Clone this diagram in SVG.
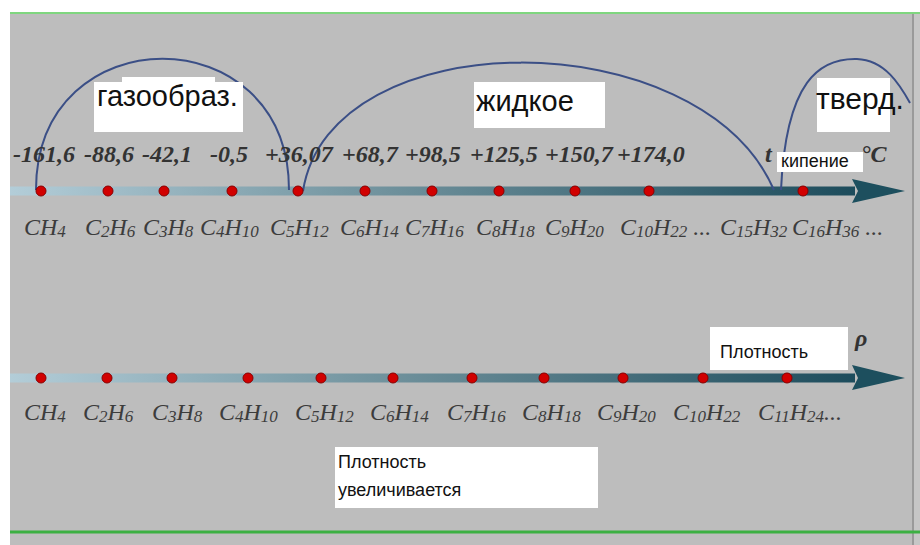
<svg xmlns="http://www.w3.org/2000/svg" width="920" height="545" viewBox="0 0 920 545">
<defs>
<linearGradient id="bar" x1="0" y1="0" x2="1" y2="0">
<stop offset="0" stop-color="#b3cdd8"/>
<stop offset="0.45" stop-color="#6f919c"/>
<stop offset="1" stop-color="#1d4c5c"/>
</linearGradient>
</defs>
<style>
.num{font-family:"Liberation Serif",serif;font-style:italic;font-weight:bold;font-size:24px;fill:#333}
.f{font-family:"Liberation Serif",serif;font-style:italic;font-size:24px;fill:#3c3c3c}
.s{font-size:17px}
.lbl{font-family:"Liberation Sans",sans-serif;fill:#111}
.box{fill:#fff}
.dot{fill:#d10000;stroke:#8a0000;stroke-width:1}
.arc{fill:none;stroke:#3b4f86;stroke-width:2}
</style>
<rect x="0" y="0" width="920" height="545" fill="#fff"/>
<rect x="10" y="13" width="910" height="532" fill="#bdbdbd"/>
<rect x="914" y="13" width="6" height="532" fill="#c6c6c6"/>
<line x1="913" y1="13" x2="913" y2="545" stroke="#9a9a9a" stroke-width="2"/>
<line x1="10" y1="13" x2="920" y2="13" stroke="#7fd67f" stroke-width="2"/>
<line x1="10" y1="532" x2="920" y2="532" stroke="#3cb043" stroke-width="3"/>

<g id="axis-temp">
<rect x="10" y="186.5" width="845" height="9" fill="url(#bar)"/>
<polygon points="852,179 905,191 852,203 858,191" fill="#1d4f5e"/>
</g>
<g id="axis-density">
<rect x="10" y="373.5" width="845" height="9" fill="url(#bar)"/>
<polygon points="852,365 905,378 852,390 858,378" fill="#1d4f5e"/>
</g>

<g id="connectors">
<path class="arc" d="M36,190 C36,15 289,15 289,190"/>
<path class="arc" d="M303,191 C330,20 700,20 774,190"/>
<path class="arc" d="M781,190 C786,80 820,58 857,59 C885,60 900,85 910,103"/>
</g>

<g id="dots-temp">
<circle class="dot" cx="41" cy="191" r="5"/>
<circle class="dot" cx="108" cy="191" r="5"/>
<circle class="dot" cx="164" cy="191" r="5"/>
<circle class="dot" cx="232" cy="191" r="5"/>
<circle class="dot" cx="298" cy="191" r="5"/>
<circle class="dot" cx="365" cy="191" r="5"/>
<circle class="dot" cx="432" cy="191" r="5"/>
<circle class="dot" cx="499" cy="191" r="5"/>
<circle class="dot" cx="575" cy="191" r="5"/>
<circle class="dot" cx="649" cy="191" r="5"/>
<circle class="dot" cx="803" cy="191" r="5"/>
</g>
<g id="dots-density">
<circle class="dot" cx="41" cy="378" r="5"/>
<circle class="dot" cx="107" cy="378" r="5"/>
<circle class="dot" cx="172" cy="378" r="5"/>
<circle class="dot" cx="248" cy="378" r="5"/>
<circle class="dot" cx="321" cy="378" r="5"/>
<circle class="dot" cx="393" cy="378" r="5"/>
<circle class="dot" cx="472" cy="378" r="5"/>
<circle class="dot" cx="544" cy="378" r="5"/>
<circle class="dot" cx="623" cy="378" r="5"/>
<circle class="dot" cx="703" cy="378" r="5"/>
<circle class="dot" cx="787" cy="378" r="5"/>
</g>

<g id="temps">
<text class="num" x="13" y="162">-161,6</text>
<text class="num" x="84" y="162">-88,6</text>
<text class="num" x="142" y="162">-42,1</text>
<text class="num" x="210" y="162">-0,5</text>
<text class="num" x="265" y="162">+36,07</text>
<text class="num" x="342" y="162">+68,7</text>
<text class="num" x="405" y="162">+98,5</text>
<text class="num" x="470" y="162">+125,5</text>
<text class="num" x="545" y="162">+150,7</text>
<text class="num" x="617" y="162">+174,0</text>
<text class="num" x="765" y="162">t</text>
</g>

<g id="formulas-temp">
<text class="f" x="24" y="235">CH<tspan class="s" dy="2">4</tspan></text>
<text class="f" x="85" y="235">C<tspan class="s" dy="2">2</tspan><tspan dy="-2">H</tspan><tspan class="s" dy="2">6</tspan></text>
<text class="f" x="143" y="235">C<tspan class="s" dy="2">3</tspan><tspan dy="-2">H</tspan><tspan class="s" dy="2">8</tspan></text>
<text class="f" x="200" y="235">C<tspan class="s" dy="2">4</tspan><tspan dy="-2">H</tspan><tspan class="s" dy="2">10</tspan></text>
<text class="f" x="270" y="235">C<tspan class="s" dy="2">5</tspan><tspan dy="-2">H</tspan><tspan class="s" dy="2">12</tspan></text>
<text class="f" x="340" y="235">C<tspan class="s" dy="2">6</tspan><tspan dy="-2">H</tspan><tspan class="s" dy="2">14</tspan></text>
<text class="f" x="405" y="235">C<tspan class="s" dy="2">7</tspan><tspan dy="-2">H</tspan><tspan class="s" dy="2">16</tspan></text>
<text class="f" x="476" y="235">C<tspan class="s" dy="2">8</tspan><tspan dy="-2">H</tspan><tspan class="s" dy="2">18</tspan></text>
<text class="f" x="545" y="235">C<tspan class="s" dy="2">9</tspan><tspan dy="-2">H</tspan><tspan class="s" dy="2">20</tspan></text>
<text class="f" x="620" y="235">C<tspan class="s" dy="2">10</tspan><tspan dy="-2">H</tspan><tspan class="s" dy="2">22</tspan><tspan dy="-2"> ...</tspan></text>
<text class="f" x="720" y="235">C<tspan class="s" dy="2">15</tspan><tspan dy="-2">H</tspan><tspan class="s" dy="2">32</tspan></text>
<text class="f" x="792" y="235">C<tspan class="s" dy="2">16</tspan><tspan dy="-2">H</tspan><tspan class="s" dy="2">36</tspan><tspan dy="-2"> ...</tspan></text>
</g>

<g id="formulas-density">
<text class="f" x="24" y="420">CH<tspan class="s" dy="2">4</tspan></text>
<text class="f" x="83" y="420">C<tspan class="s" dy="2">2</tspan><tspan dy="-2">H</tspan><tspan class="s" dy="2">6</tspan></text>
<text class="f" x="152" y="420">C<tspan class="s" dy="2">3</tspan><tspan dy="-2">H</tspan><tspan class="s" dy="2">8</tspan></text>
<text class="f" x="219" y="420">C<tspan class="s" dy="2">4</tspan><tspan dy="-2">H</tspan><tspan class="s" dy="2">10</tspan></text>
<text class="f" x="295" y="420">C<tspan class="s" dy="2">5</tspan><tspan dy="-2">H</tspan><tspan class="s" dy="2">12</tspan></text>
<text class="f" x="370" y="420">C<tspan class="s" dy="2">6</tspan><tspan dy="-2">H</tspan><tspan class="s" dy="2">14</tspan></text>
<text class="f" x="447" y="420">C<tspan class="s" dy="2">7</tspan><tspan dy="-2">H</tspan><tspan class="s" dy="2">16</tspan></text>
<text class="f" x="522" y="420">C<tspan class="s" dy="2">8</tspan><tspan dy="-2">H</tspan><tspan class="s" dy="2">18</tspan></text>
<text class="f" x="597" y="420">C<tspan class="s" dy="2">9</tspan><tspan dy="-2">H</tspan><tspan class="s" dy="2">20</tspan></text>
<text class="f" x="673" y="420">C<tspan class="s" dy="2">10</tspan><tspan dy="-2">H</tspan><tspan class="s" dy="2">22</tspan></text>
<text class="f" x="758" y="420">C<tspan class="s" dy="2">11</tspan><tspan dy="-2">H</tspan><tspan class="s" dy="2">24</tspan><tspan dy="-2">...</tspan></text>
<text class="num" x="855" y="346" font-size="25">ρ</text>
</g>

<g id="label-gas">
<rect class="box" x="122" y="77" width="93" height="6"/>
<rect class="box" x="94" y="82" width="149" height="50"/>
<text class="lbl" x="97" y="106" font-size="29">газообраз.</text>
</g>
<g id="label-liquid">
<rect class="box" x="474" y="82" width="131" height="46"/>
<text class="lbl" x="476" y="111" font-size="29">жидкое</text>
</g>
<g id="label-solid">
<rect class="box" x="817" y="78" width="73" height="54"/>
<text class="lbl" x="816" y="109" font-size="30">тверд.</text>
</g>
<g id="label-boil">
<rect class="box" x="777" y="152" width="86" height="20"/>
<text class="lbl" x="781" y="167" font-size="18">кипение</text>
<text class="num" x="861" y="162">°C</text>
</g>
<g id="label-density">
<rect class="box" x="710" y="327" width="138" height="43"/>
<text class="lbl" x="720" y="358" font-size="18">Плотность</text>
</g>
<g id="label-density-inc">
<rect class="box" x="335" y="447" width="263" height="61"/>
<text class="lbl" x="338" y="468" font-size="18">Плотность</text>
<text class="lbl" x="338" y="496" font-size="18">увеличивается</text>
</g>
</svg>
